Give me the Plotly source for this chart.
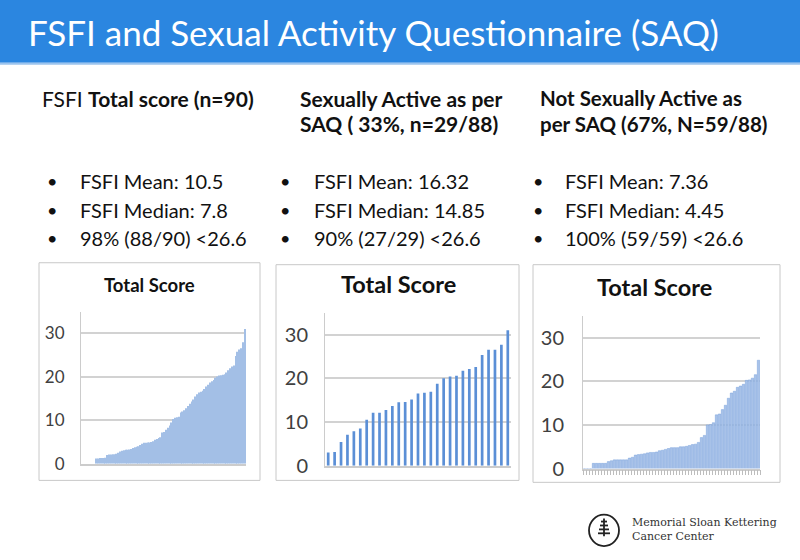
import plotly.graph_objects as go

# ---------------- data ----------------
total_scores = [0, 0, 0, 0, 0, 0, 0, 0,
                1.2, 1.2, 1.3, 1.3, 1.3, 1.4,
                2.0, 2.1, 2.1, 2.2, 2.2, 2.3, 2.5,
                2.8, 3.0, 3.1, 3.2, 3.2, 3.3, 3.4,
                3.6, 3.8, 3.9, 4.0, 4.3, 4.6,
                4.8, 4.8, 4.9, 4.9, 5.0, 5.2, 5.5,
                5.7, 5.9, 6.1, 7.2,
                7.3, 7.8, 8.3, 8.8, 9.5,
                10.3, 10.6, 10.7, 10.8,
                11.8, 12.0, 12.3, 12.8, 13.3,
                13.8, 14.3, 14.8, 15.5, 16.0,
                16.4, 16.6, 16.8, 17.2, 17.8,
                18.2, 18.7, 19.0, 19.3, 19.8,
                20.1, 20.3, 20.4, 20.5, 20.6,
                21.0, 21.5, 22.0, 22.4, 22.6,
                24.8, 25.8, 26.3, 26.6, 28.0, 31.0]

active_scores = [3.0, 3.1, 5.4, 7.1, 7.9, 8.5, 10.5, 12.1, 12.1, 12.75,
                 13.65, 14.5, 14.55, 15.15, 16.5, 16.7, 16.9, 18.75, 20.0, 20.4,
                 20.6, 21.75, 22.1, 22.6, 25.3, 26.5, 26.5, 27.7, 31.0]

inactive_scores = [0, 0, 0,
                   1.2, 1.2, 1.2, 1.2, 1.2,
                   1.6, 1.8,
                   2.0, 2.0, 2.0, 2.0, 2.0, 2.4,
                   2.6, 3.1, 3.2, 3.3,
                   3.4, 3.6, 3.7, 3.7,
                   3.8, 4.1, 4.2, 4.4,
                   4.6, 4.8, 4.8, 4.8,
                   5.0, 5.0, 5.1, 5.3, 5.5,
                   5.6, 6.0, 7.1, 7.6,
                   10.0, 10.1, 10.5, 12.3, 12.5, 13.5, 14.5,
                   16.1, 17.3, 17.7, 18.6, 18.9, 19.3,
                   20.2, 20.3, 20.7, 21.5, 24.8]

y_ticks = [0, 10, 20, 30]
chart_title = "Total Score"

slide_title = "FSFI and Sexual Activity Questionnaire (SAQ)"
col_headings = [
    ["FSFI <b>Total score (n=90)</b>"],
    ["<b>Sexually Active as per</b>", "<b>SAQ ( 33%, n=29/88)</b>"],
    ["<b>Not Sexually Active as</b>", "<b>per SAQ (67%, N=59/88)</b>"],
]
col_bullets = [
    ["FSFI Mean: 10.5", "FSFI Median: 7.8", "98% (88/90) <26.6"],
    ["FSFI Mean: 16.32", "FSFI Median: 14.85", "90% (27/29) <26.6"],
    ["FSFI Mean: 7.36", "FSFI Median: 4.45", "100% (59/59) <26.6"],
]

# ---------------- layout helpers ----------------
W, H = 800, 560


def px(x):
    return x / W


def py(y):
    return 1 - y / H


FONT = "Lato"
fig = go.Figure()

# bars
fig.add_trace(go.Bar(x=list(range(1, len(total_scores) + 1)), y=total_scores,
                     marker=dict(color="#a3bfe6", line=dict(width=0)), width=0.88,
                     xaxis="x", yaxis="y", showlegend=False))
fig.add_trace(go.Bar(x=list(range(1, len(active_scores) + 1)), y=active_scores,
                     marker=dict(color="#5b8fd6", line=dict(width=0)), width=0.42,
                     xaxis="x2", yaxis="y2", showlegend=False))
fig.add_trace(go.Bar(x=list(range(1, len(inactive_scores) + 1)), y=inactive_scores,
                     marker=dict(color="#a8c2e8", line=dict(color="#7aa3dc", width=0.5)), width=0.8,
                     xaxis="x3", yaxis="y3", showlegend=False))

grid = "#d2d2d2"
axcol = "#cccccc"


def yax(dom, size, anchor, standoff):
    return dict(domain=dom, range=[0, 35], tickvals=y_ticks, showgrid=True,
                gridcolor=grid, gridwidth=1.5, zeroline=False, showline=True,
                linecolor=axcol, linewidth=1, ticks="", anchor=anchor,
                ticklabelstandoff=standoff,
                tickfont=dict(family=FONT, size=size, color="#404040"),
                fixedrange=True)


def xax(dom, n, anchor, ticks=""):
    return dict(domain=dom, range=[0.5, n + 0.5], showticklabels=False,
                showgrid=False, zeroline=False, showline=True, linecolor=axcol,
                linewidth=1.5, ticks=ticks, tickcolor="#bdbdbd", ticklen=5,
                tickvals=[i + 0.5 for i in range(n + 1)] if ticks else None,
                anchor=anchor, fixedrange=True)


fig.update_layout(
    width=W, height=H, autosize=False, margin=dict(l=0, r=0, t=0, b=0),
    paper_bgcolor="white", plot_bgcolor="rgba(0,0,0,0)",
    barmode="group",
    xaxis=xax([px(81), px(246)], len(total_scores), "y"),
    yaxis=yax([py(473), py(318)], 17, "x", 12),
    xaxis2=xax([px(325), px(511)], len(active_scores), "y2"),
    yaxis2=yax([py(475), py(319)], 20, "x2", 12),
    xaxis3=xax([px(583), px(760)], len(inactive_scores), "y3", ticks="outside"),
    yaxis3=yax([py(478), py(322)], 20, "x3", 14),
)

shapes = []
# title band
shapes.append(dict(type="rect", xref="paper", yref="paper", x0=0, x1=1,
                   y0=py(64), y1=1, fillcolor="#2b86e0", line=dict(width=0), layer="below"))
shapes.append(dict(type="line", xref="paper", yref="paper", x0=0, x1=1,
                   y0=py(65), y1=py(65), line=dict(color="#9cc4ee", width=2)))
# chart boxes
for (x0, y0, x1, y1) in [(39, 268, 260, 490), (276, 270, 519, 490), (533, 270, 780, 492)]:
    shapes.append(dict(type="rect", xref="paper", yref="paper", x0=px(x0), x1=px(x1),
                       y0=py(y1), y1=py(y0), line=dict(color="#c8c8c8", width=1),
                       fillcolor="rgba(0,0,0,0)", layer="below"))
# logo icon
cx, cy, r = 604, 541, 16
shapes.append(dict(type="circle", xref="paper", yref="paper", x0=px(cx - r + 1), x1=px(cx + r - 1),
                   y0=py(cy + r), y1=py(cy - r), line=dict(color="#222", width=1.8)))
shapes.append(dict(type="line", xref="paper", yref="paper", x0=px(cx), x1=px(cx),
                   y0=py(cy + 6), y1=py(cy - 12), line=dict(color="#222", width=1.8)))
for i, dy in enumerate([-9, -5, -1, 3]):
    hw = 3 + i
    shapes.append(dict(type="line", xref="paper", yref="paper", x0=px(cx - hw), x1=px(cx + hw),
                       y0=py(cy + dy), y1=py(cy + dy), line=dict(color="#222", width=1.8)))
fig.update_layout(shapes=shapes)

ann = []
ann.append(dict(text=slide_title, x=px(26), y=py(33), xref="paper", yref="paper",
                xanchor="left", yanchor="middle", showarrow=False,
                font=dict(family=FONT, size=35, color="white")))

head_x = [40, 298, 538]
bullet_x = [52, 285, 538]
text_x = [78, 312, 563]
for c in range(3):
    for j, line in enumerate(col_headings[c]):
        ann.append(dict(text=line, x=px(head_x[c]), y=py(100 + 26 * j), xref="paper", yref="paper",
                        xanchor="left", yanchor="middle", showarrow=False,
                        font=dict(family=FONT, size=21 if c < 2 else 20.5, color="#111")))
    for j, line in enumerate(col_bullets[c]):
        yy = py(185 + 29 * j)
        ann.append(dict(text="•", x=px(bullet_x[c]), y=yy, xref="paper", yref="paper",
                        xanchor="center", yanchor="middle", showarrow=False,
                        font=dict(family=FONT, size=18, color="#111")))
        ann.append(dict(text=line, x=px(text_x[c]), y=yy, xref="paper", yref="paper",
                        xanchor="left", yanchor="middle", showarrow=False,
                        font=dict(family=FONT, size=20, color="#111")))

# chart titles
for (xc, yc, sz) in [(149, 291, 18.5), (398, 290, 23.5), (654, 293, 23.5)]:
    ann.append(dict(text="<b>" + chart_title + "</b>", x=px(xc), y=py(yc), xref="paper", yref="paper",
                    xanchor="center", yanchor="middle", showarrow=False,
                    font=dict(family=FONT, size=sz, color="#111")))

# logo text
ann.append(dict(text="Memorial Sloan Kettering<br>Cancer Center", x=px(630), y=py(540),
                xref="paper", yref="paper", xanchor="left", yanchor="middle", align="left",
                showarrow=False, font=dict(family="DejaVu Serif", size=11, color="#333")))

fig.update_layout(annotations=ann)

fig.write_html("out.html",
               config={"displayModeBar": False, "responsive": False},
               post_script="document.body.style.margin='0';document.body.style.overflow='hidden';")
